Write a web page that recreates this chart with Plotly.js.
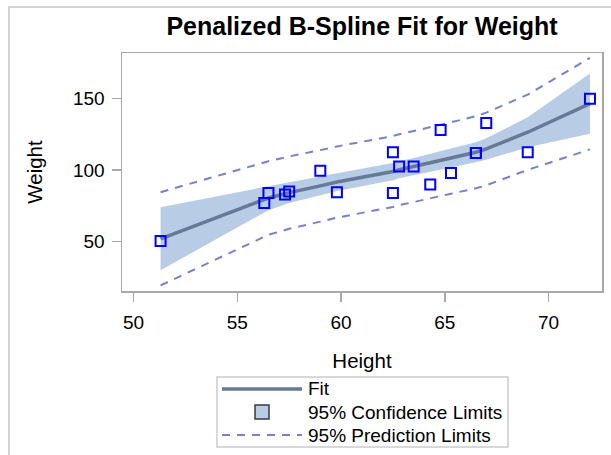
<!DOCTYPE html>
<html>
<head>
<meta charset="utf-8">
<script src="https://cdn.plot.ly/plotly-3.0.1.min.js"></script>
<style>
  html, body { margin: 0; padding: 0; background: #ffffff; }
  #wrap { position: relative; width: 611px; height: 455px; overflow: hidden; }
  #chart { position: absolute; left: 0; top: 0; width: 611px; height: 455px; }
  #frame { position: absolute; left: 8px; top: 6px; width: 800px; height: 800px;
           border-left: 2px solid #d3d3d3; border-top: 2px solid #d3d3d3; pointer-events: none; }
</style>
</head>
<body>
<div id="wrap">
  <div id="chart"></div>
  <div id="frame"></div>
</div>
<script>
// Observed students: height (in) and weight (lb)
const height = [69.0, 56.5, 65.3, 62.8, 63.5, 57.3, 59.8, 62.5, 62.5, 59.0,
                51.3, 64.3, 56.3, 66.5, 72.0, 64.8, 67.0, 57.5, 66.5];
const weight = [112.5, 84.0, 98.0, 102.5, 102.5, 83.0, 84.5, 112.5, 84.0, 99.5,
                50.5, 90.0, 77.0, 112.0, 150.0, 128.0, 133.0, 85.0, 112.0];

// Penalized B-spline evaluated at the distinct heights
const gridX   = [51.3, 56.3, 56.5, 57.3, 57.5, 59.0, 59.8, 62.5, 62.8, 63.5, 64.3, 64.8, 65.3, 66.5, 67.0, 69.0, 72.0];
const fitY    = [52.0, 79.5, 80.5, 83.5, 84.3, 89.0, 91.7, 99.0, 100.3, 102.5, 105.0, 106.8, 108.5, 112.5, 114.8, 126.5, 146.5];
const clmLow  = [30.0, 70.5, 72.0, 76.0, 77.0, 82.5, 85.5, 93.0, 94.3, 96.5, 98.8, 100.4, 101.9, 105.5, 107.3, 116.0, 125.5];
const clmHigh = [74.0, 88.5, 89.0, 91.0, 91.6, 95.5, 97.9, 105.0, 106.3, 108.5, 111.2, 113.2, 115.1, 119.5, 122.3, 137.0, 167.5];
const pLow    = [19.4, 53.7, 54.8, 58.1, 59.0, 64.0, 66.8, 74.2, 75.5, 77.7, 80.1, 81.9, 83.5, 87.3, 89.4, 100.2, 114.5];
const pHigh   = [84.6, 105.3, 106.2, 108.9, 109.6, 114.0, 116.6, 123.8, 125.1, 127.3, 129.9, 131.7, 133.5, 137.7, 140.2, 152.8, 178.5];

const xTicks = [50, 55, 60, 65, 70];
const yTicks = [50, 100, 150];
const legendLabels = ['Fit', '95% Confidence Limits', '95% Prediction Limits'];

const FONT = '"Liberation Sans", Arial, Helvetica, sans-serif';
const bandColor = '#b8cce6';
const fitColor = '#687897';
const predColor = '#7483c9';
const axisGray = '#a8a8a8';
const predDash = '8px,7px';

// Plot area in pixels (matches the margins below)
const M = { l: 122, r: 9, t: 53, b: 164 };
const W = 611, H = 455;
const PW = W - M.l - M.r, PH = H - M.t - M.b;
const px = v => (v - M.l) / PW;          // pixel x -> paper x
const py = v => (H - M.b - v) / PH;      // pixel y -> paper y

const traces = [
  { x: gridX, y: clmLow, mode: 'lines', line: { width: 0, color: bandColor },
    showlegend: false, hoverinfo: 'skip' },
  { x: gridX, y: clmHigh, mode: 'lines', line: { width: 0, color: bandColor },
    fill: 'tonexty', fillcolor: bandColor, showlegend: false, hoverinfo: 'skip', name: legendLabels[1] },
  { x: gridX, y: pLow, mode: 'lines', name: legendLabels[2],
    line: { color: predColor, width: 2, dash: predDash }, showlegend: false },
  { x: gridX, y: pHigh, mode: 'lines', name: legendLabels[2],
    line: { color: predColor, width: 2, dash: predDash }, showlegend: false },
  { x: gridX, y: fitY, mode: 'lines', name: legendLabels[0],
    line: { color: fitColor, width: 3.5 }, showlegend: false },
  { x: height, y: weight, mode: 'markers', showlegend: false,
    marker: { symbol: 'square-open', size: 10, color: '#0000ff', line: { color: '#0000ff', width: 2 } } }
];

// Legend box with its three keys
const box = { x0: 217, x1: 508, y0: 377, y1: 447 };
const rows = [389, 412, 435];
const keyX0 = 222, keyX1 = 302, textX = 306, sq = 7;

const shapes = [
  { type: 'rect', xref: 'paper', yref: 'paper',
    x0: px(box.x0), x1: px(box.x1), y0: py(box.y0), y1: py(box.y1),
    line: { color: '#cccccc', width: 1.5 }, fillcolor: '#ffffff', layer: 'above' },
  { type: 'line', xref: 'paper', yref: 'paper',
    x0: px(keyX0), x1: px(keyX1), y0: py(rows[0]), y1: py(rows[0]),
    line: { color: fitColor, width: 3.5 }, layer: 'above' },
  { type: 'rect', xref: 'paper', yref: 'paper',
    x0: px(262 - sq), x1: px(262 + sq), y0: py(rows[1] - sq), y1: py(rows[1] + sq),
    line: { color: '#3a3a3a', width: 1.5 }, fillcolor: bandColor, layer: 'above' },
  { type: 'line', xref: 'paper', yref: 'paper',
    x0: px(keyX0), x1: px(keyX1), y0: py(rows[2]), y1: py(rows[2]),
    line: { color: predColor, width: 2, dash: predDash }, layer: 'above' }
];

const annotations = legendLabels.map((t, i) => ({
  text: t, xref: 'paper', yref: 'paper', x: px(textX), y: py(rows[i]),
  xanchor: 'left', yanchor: 'middle', showarrow: false,
  font: { family: FONT, size: 19, color: '#000000' }
}));

const layout = {
  width: W, height: H,
  margin: { l: M.l, r: M.r, t: M.t, b: M.b, autoexpand: false },
  paper_bgcolor: '#ffffff', plot_bgcolor: '#ffffff',
  font: { family: FONT, color: '#000000' },
  showlegend: false,
  title: { text: 'Penalized B-Spline Fit for Weight',
           font: { family: FONT, size: 25, color: '#000000', weight: 'bold' },
           x: 0.5, xref: 'paper', y: 1 - 26 / 455, yref: 'container', yanchor: 'middle' },
  xaxis: {
    range: [49.44, 72.58], tickvals: xTicks, ticktext: xTicks.map(String),
    showgrid: false, zeroline: false, showline: true, mirror: true,
    linecolor: axisGray, linewidth: 1.5, ticks: 'outside', ticklen: 9, tickwidth: 1.5, tickcolor: axisGray,
    tickfont: { size: 19, color: '#000000' }, ticklabelstandoff: 5,
    title: { text: 'Height', font: { size: 20.5, color: '#000000' }, standoff: 21 }
  },
  yaxis: {
    range: [15.5, 181.9], tickvals: yTicks, ticktext: yTicks.map(String),
    showgrid: false, zeroline: false, showline: true, mirror: true,
    linecolor: axisGray, linewidth: 1.5, ticks: 'outside', ticklen: 9, tickwidth: 1.5, tickcolor: axisGray,
    tickfont: { size: 19, color: '#000000' }, ticklabelstandoff: 3,
    title: { text: 'Weight', font: { size: 20.5, color: '#000000' }, standoff: 25 }
  },
  shapes: shapes,
  annotations: annotations
};

Plotly.newPlot('chart', traces, layout, { displayModeBar: false, staticPlot: true });
</script>
</body>
</html>
